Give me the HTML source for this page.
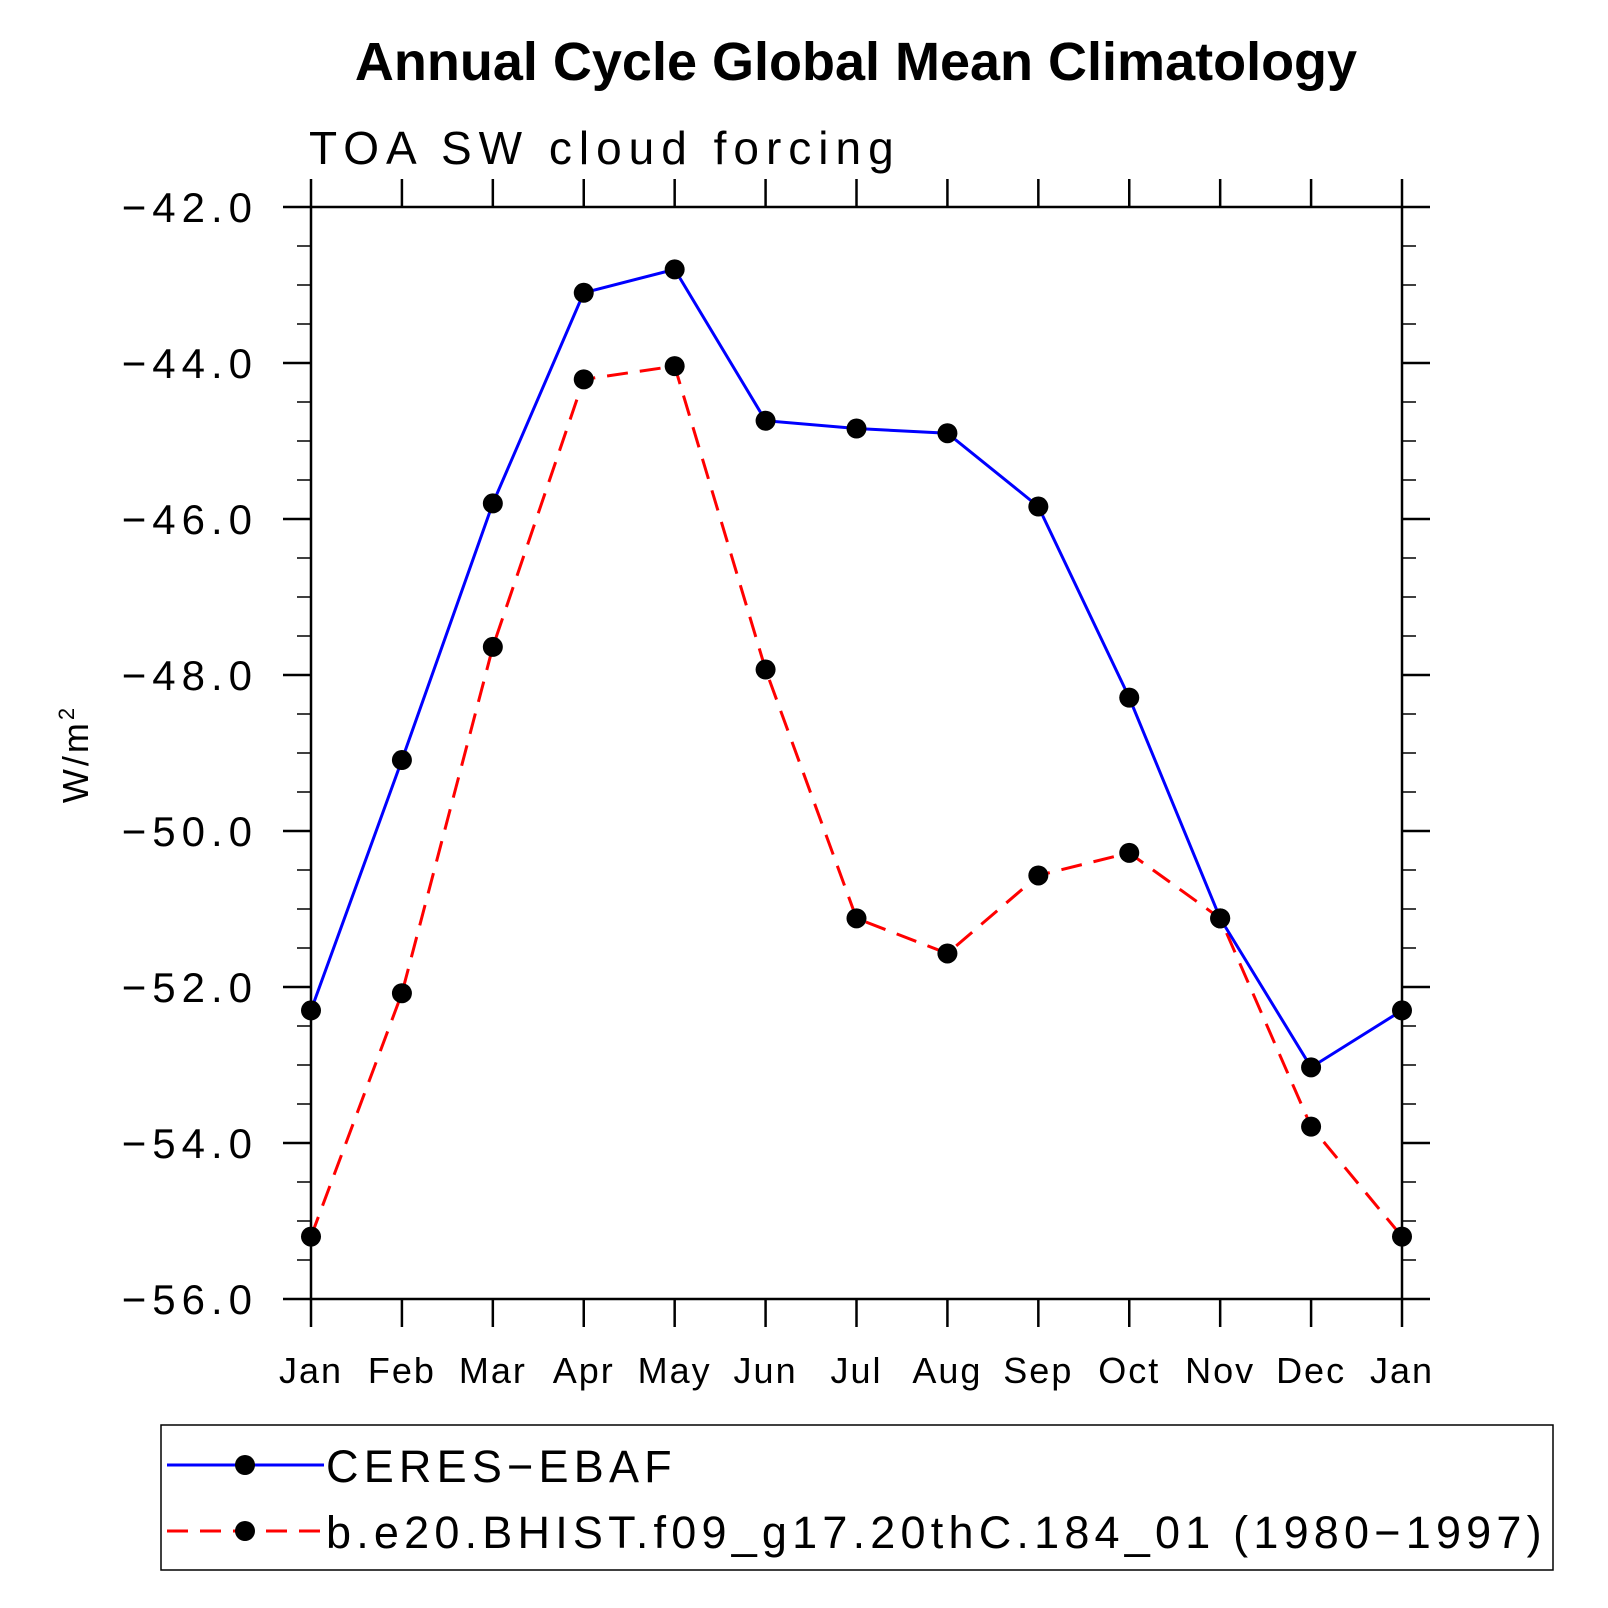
<!DOCTYPE html>
<html><head><meta charset="utf-8"><style>
html,body{margin:0;padding:0;background:#fff;}
svg{display:block;font-family:"Liberation Sans",sans-serif;}
</style></head><body>
<svg id="chart" width="1608" height="1608" viewBox="0 0 1608 1608">
<text x="856" y="80" text-anchor="middle" font-size="54" font-weight="bold">Annual Cycle Global Mean Climatology</text>
<text x="309" y="164" font-size="46" letter-spacing="7">TOA SW cloud forcing</text>
<text transform="translate(88,754) rotate(-90)" text-anchor="middle" font-size="36" letter-spacing="3">W/m<tspan dy="-14" font-size="22">2</tspan></text>
<g id="axes"></g>
<g id="series"></g>
<rect x="161" y="1425" width="1392" height="145" fill="none" stroke="#000" stroke-width="1.5"/>
<g id="legend"></g>
</svg>
<script>
const months=["Jan","Feb","Mar","Apr","May","Jun","Jul","Aug","Sep","Oct","Nov","Dec","Jan"];
const ceres=[-52.3,-49.09,-45.8,-43.1,-42.8,-44.74,-44.84,-44.9,-45.84,-48.29,-51.12,-53.03,-52.3];
const model=[-55.2,-52.08,-47.64,-44.21,-44.04,-47.93,-51.12,-51.57,-50.57,-50.28,-51.12,-53.79,-55.2];
const yTicks=[-42,-44,-46,-48,-50,-52,-54,-56];
const seriesNames=["CERES\u2212EBAF","b.e20.BHIST.f09_g17.20thC.184_01 (1980\u22121997)"];
const NS="http://www.w3.org/2000/svg";
const L=311,R=1402,T=207,B=1299,yMin=-56,yMax=-42;
const xs=i=>L+(R-L)*i/(months.length-1);
const ys=v=>B-(v-yMin)/(yMax-yMin)*(B-T);
function mk(tag,attrs,parent){const e=document.createElementNS(NS,tag);for(const k in attrs)e.setAttribute(k,attrs[k]);parent.appendChild(e);return e;}
const ax=document.getElementById('axes');
const frame=mk('rect',{x:L,y:T,width:R-L,height:B-T,fill:'none',stroke:'#000','stroke-width':2.5},ax);


months.forEach((m,i)=>{
  const x=xs(i);
  const t1=mk('line',{x1:x,x2:x,y1:B,y2:B+28,stroke:'#000','stroke-width':2.5},ax);
  
  
  const t2=mk('line',{x1:x,x2:x,y1:T,y2:T-28,stroke:'#000','stroke-width':2.5},ax);
  
  
  const lb=mk('text',{x:x,y:1383,'text-anchor':'middle','font-size':36,'letter-spacing':2},ax);
  lb.textContent=m;
  
  
});
for(let v=yMin;v<=yMax+1e-9;v+=0.5){
  const y=ys(v);const major=Math.abs(v/2-Math.round(v/2))<1e-9;const len=major?28:14;
  const a=mk('line',{x1:L,x2:L-len,y1:y,y2:y,stroke:'#000','stroke-width':major?2.5:1.5},ax);
  
  
  const b=mk('line',{x1:R,x2:R+len,y1:y,y2:y,stroke:'#000','stroke-width':major?2.5:1.5},ax);
  
  
}
yTicks.forEach(v=>{
  const lb=mk('text',{x:258,y:ys(v)+15,'text-anchor':'end','font-size':42,'letter-spacing':6},ax);
  lb.textContent='\u2212'+Math.abs(v).toFixed(1);
  
  
});
const sg=document.getElementById('series');
function draw(data,color,dash,name){
  const pl=mk('polyline',{points:data.map((v,i)=>xs(i)+','+ys(v)).join(' '),fill:'none',stroke:color,'stroke-width':3,'stroke-dasharray':dash},sg);
  
  
  data.forEach((v,i)=>{
    const c=mk('circle',{cx:xs(i),cy:ys(v),r:10,fill:'#000'},sg);
    
    
  });
}
draw(model,'#f00','21 12','model');
draw(ceres,'#00f','none','ceres');
const lg=document.getElementById('legend');
[[1465,'#00f','none'],[1531,'#f00','21 12']].forEach((r,k)=>{
  const ln=mk('line',{x1:167,x2:324,y1:r[0],y2:r[0],stroke:r[1],'stroke-width':3,'stroke-dasharray':r[2]},lg);
  
  
  const c=mk('circle',{cx:245,cy:r[0],r:10,fill:'#000'},lg);
  
  
  const t=mk('text',{x:326,y:r[0]+17,'font-size':45,'letter-spacing':5.2},lg);
  t.textContent=seriesNames[k];
  
  
});
</script>
</body></html>
